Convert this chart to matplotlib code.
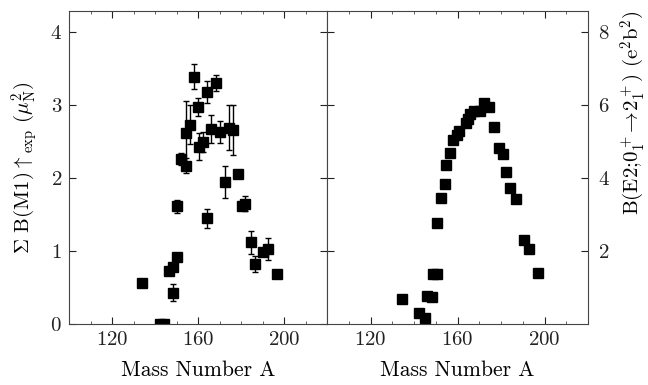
import numpy as np
import matplotlib
matplotlib.use('Agg')
import matplotlib.pyplot as plt
from matplotlib.ticker import MultipleLocator

plt.rcParams['font.family'] = 'cmr10'
plt.rcParams['mathtext.fontset'] = 'cm'
plt.rcParams['axes.formatter.use_mathtext'] = True

# left panel: summed M1 strength with error bars
m1_mass = [134.1, 142.5, 144.2, 146.4, 148.2, 148.4, 150.4, 150.4, 152.1, 154.3,
           154.3, 156.3, 158.3, 160.1, 160.3, 162.3, 164.2, 164.2, 166.2, 168.2,
           170.1, 172.4, 174.4, 176.3, 178.4, 180.5, 182.0, 184.5, 186.4, 190.4,
           192.6, 196.6]
m1_value = [0.56, 0.0, 0.0, 0.72, 0.78, 0.43, 0.92, 1.61, 2.26, 2.17,
            2.61, 2.73, 3.39, 2.97, 2.43, 2.49, 3.18, 1.45, 2.67, 3.30,
            2.63, 1.94, 2.69, 2.66, 2.05, 1.62, 1.65, 1.12, 0.82, 0.98,
            1.03, 0.69]
m1_error = [0.0, 0.0, 0.0, 0.0, 0.0, 0.12, 0.0, 0.09, 0.08, 0.10,
            0.45, 0.27, 0.17, 0.12, 0.18, 0.14, 0.15, 0.13, 0.19, 0.11,
            0.15, 0.22, 0.31, 0.34, 0.0, 0.0, 0.10, 0.16, 0.11, 0.0,
            0.15, 0.0]

# right panel: B(E2) values
e2_mass = [134.6, 142.5, 144.9, 146.2, 148.5, 148.6, 150.5, 150.5, 152.6, 154.2,
           154.6, 156.6, 158.0, 159.7, 160.8, 163.9, 164.7, 165.9, 167.7, 170.5,
           172.1, 174.7, 176.6, 178.9, 180.8, 182.5, 184.3, 186.7, 190.6, 192.7,
           196.8]
e2_value = [0.69, 0.29, 0.16, 0.77, 0.73, 1.37, 1.36, 2.76, 3.44, 3.84,
            4.36, 4.68, 5.04, 5.18, 5.30, 5.50, 5.61, 5.75, 5.84, 5.84,
            6.05, 5.94, 5.41, 4.81, 4.66, 4.17, 3.72, 3.42, 2.29, 2.05,
            1.41]

fig = plt.figure(figsize=(6.48, 3.85), dpi=100)
W, H = 648.0, 385.0
ax1 = fig.add_axes([69 / W, 1 - 324 / H, 258 / W, 313 / H])
ax2 = fig.add_axes([327 / W, 1 - 324 / H, 261 / W, 313 / H])

ax1.errorbar(m1_mass, m1_value, yerr=m1_error, fmt='s', color='k', ms=7.5,
             capsize=2.5, elinewidth=1, capthick=1)
ax2.plot(e2_mass, e2_value, 's', color='k', ms=7.5)

for ax in (ax1, ax2):
    ax.set_xlim(100, 220)
    ax.xaxis.set_major_locator(MultipleLocator(40))
    ax.xaxis.set_minor_locator(MultipleLocator(10))
    ax.tick_params(which='both', direction='in', top=True, right=True,
                   labelsize=15, colors='#222222')
    ax.tick_params(which='major', length=5, width=0.8, pad=5)
    ax.tick_params(which='minor', length=2, width=0.5)
    ax.tick_params(axis='y', which='minor', length=0)
    for s in ax.spines.values():
        s.set_color('#444444')
        s.set_linewidth(0.8)
    ax.set_xlabel('Mass Number A', fontsize=15.5, labelpad=8)

ax1.set_ylim(0, 4.288)
ax1.set_yticks([0, 1, 2, 3, 4])
ax1.set_ylabel(r'$\Sigma$ B(M1)$\uparrow_{\rm exp}$ ($\mu_{\rm N}^2$)',
               fontsize=15, labelpad=7)

ax2.set_ylim(0, 8.576)
ax2.set_yticks([2, 4, 6, 8])
ax2.tick_params(axis='y', labelleft=False, labelright=True, pad=7)
fig.text(633 / W, 1 - 113 / H,
         r'B(E2;$0_1^+\!\rightarrow\!2_1^+$) (e$^2$b$^2$)',
         rotation=90, ha='center', va='center', fontsize=15)

fig.savefig('out.png', dpi=100)
